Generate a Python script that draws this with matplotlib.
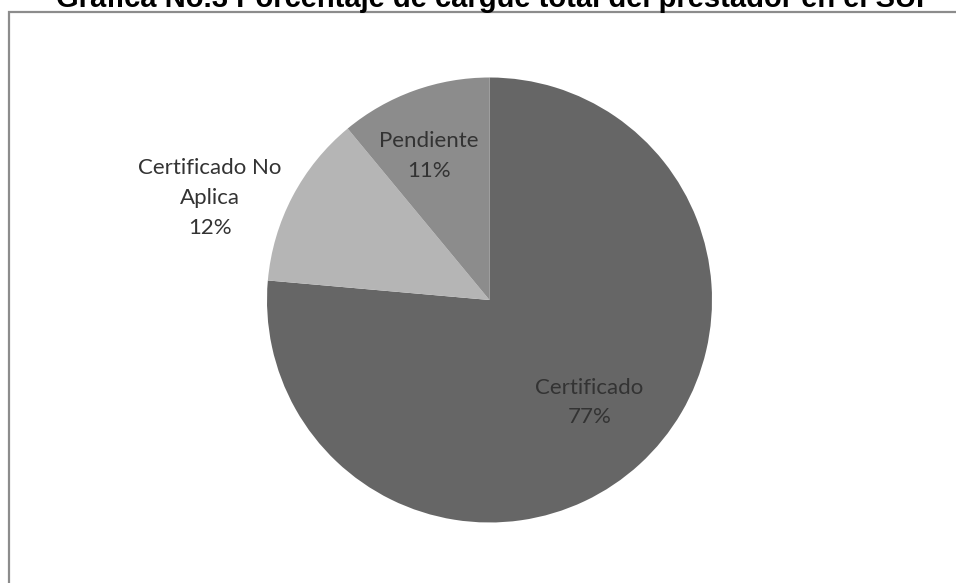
import matplotlib
matplotlib.use("Agg")
import matplotlib.pyplot as plt
from matplotlib.patches import Rectangle

# datos de la grafica
categorias = ["Certificado", "Certificado No\nAplica", "Pendiente"]
porcentajes = [76.4, 12.6, 11.0]
etiquetas_pct = ["77%", "12%", "11%"]
colores = ["#666666", "#b5b5b5", "#8c8c8c"]

fig = plt.figure(figsize=(9.56, 5.83), dpi=100)

# marco del grafico (se sale por derecha y abajo, como en el original)
fig.patches.append(Rectangle((9 / 956, -0.05), 1.0, 1 - 12.5 / 583 + 0.05,
                             transform=fig.transFigure, fill=False,
                             edgecolor="#8c8c8c", linewidth=1.6))

# titulo recortado por arriba en la imagen original
fig.text(490 / 956, 1 - 7 / 583, "Grafica No.3 Porcentaje de cargue total del prestador en el SUI",
         ha="center", va="baseline", fontsize=21, fontweight="bold",
         family="Liberation Sans", color="black")

# eje centrado en (490, 300) con radio ~222 px
cx, cy, r = 489.5, 300, 222.5
ax = fig.add_axes([(cx - r) / 956, 1 - (cy + r) / 583, 2 * r / 956, 2 * r / 583])
wedges, _ = ax.pie(porcentajes, colors=colores, startangle=90, counterclock=False,
                   radius=1.0, wedgeprops=dict(linewidth=0))
ax.set_xlim(-1, 1)
ax.set_ylim(-1, 1)
ax.set_aspect("equal")
ax.axis("off")

# posiciones de las etiquetas (en unidades del radio)
pos_etiquetas = [(0.45, -0.46), (-1.258, 0.458), (-0.274, 0.647)]
for cat, pct, (x, y) in zip(categorias, etiquetas_pct, pos_etiquetas):
    ax.text(x, y, cat + "\n" + pct, ha="center", va="center", fontsize=16,
            family="Lato", color="#333333", linespacing=1.6, clip_on=False)

fig.savefig("out.png", dpi=100)
